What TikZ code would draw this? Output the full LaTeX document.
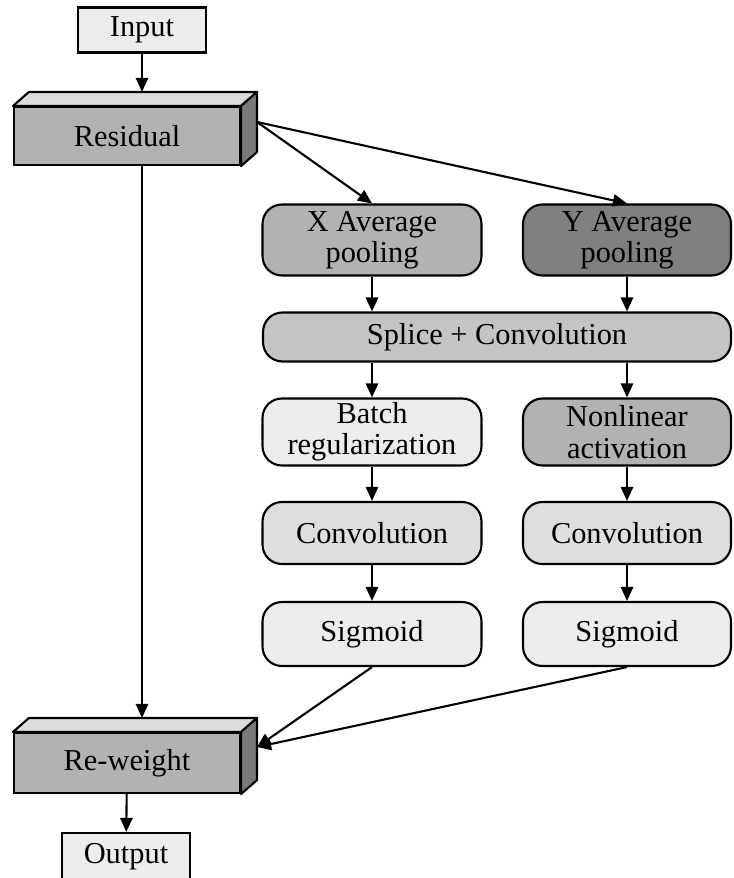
\documentclass[tikz,border=0pt]{standalone}
\usepackage{fontspec}
\setmainfont{Liberation Serif}
\usepackage{tikz}
\usetikzlibrary{arrows.meta,calc}

\definecolor{boxlight}{gray}{0.925}
\definecolor{boxmid}{gray}{0.70}
\definecolor{boxdark}{gray}{0.50}
\definecolor{boxsplice}{gray}{0.77}
\definecolor{boxconv}{gray}{0.87}
\definecolor{cubetop}{gray}{0.86}
\definecolor{cubeside}{gray}{0.48}

\begin{document}
\begin{tikzpicture}[x=0.02cm,y=-0.02cm]
        \useasboundingbox (0,0) rectangle (733,878);
        \begin{scope}[every node/.style={draw, line width=1.2pt, inner sep=0pt, align=center,
                        font=\fontsize{17.3}{17.8}\selectfont}]
                \node [fill=boxlight, minimum width=2.56cm, minimum height=0.9cm] (inp) at (142,30) {Input};
                \node [fill=boxmid, minimum width=4.52cm, minimum height=1.16cm] (res) at (127,136) {Residual};
                \node [fill=boxmid, minimum width=4.52cm, minimum height=1.2cm] (rw) at (127,763) {Re-weight};
                \node [fill=boxlight, minimum width=2.56cm, minimum height=0.96cm] (out) at (126,857) {Output};
        \end{scope}
        % top and side faces of the two blocks
        \foreach \b in {res, rw} {
                \draw [line width=1.2pt, fill=cubetop, line join=round] (\b.north west) -- ++(16,-14) -- ($(\b.north east)+(16,-14)$) -- (\b.north east) -- cycle;
                \draw [line width=1.2pt, fill=cubeside, line join=round] (\b.north east) -- ++(16,-14) -- ($(\b.south east)+(16,-14)$) -- (\b.south east) -- cycle;
        }
        \coordinate (resR) at ($(res.east)+(16,-14)$);
        \coordinate (resT) at ($(res.north)+(15,-14)$);
        \coordinate (rwR) at ($(rw.east)+(16,-16)$);
        \coordinate (rwT) at ($(rw.north)+(15,-14)$);
        \begin{scope}[every node/.style={draw, line width=1.2pt, rounded corners=11pt, inner sep=0pt, align=center,
                        font=\fontsize{17.3}{17.8}\selectfont}]
                \node [fill=boxmid, minimum width=4.38cm, minimum height=1.42cm] (xpool) at (372,240) {X Average\\pooling};
                \node [fill=boxdark, minimum width=4.16cm, minimum height=1.42cm] (ypool) at (627,240) {Y Average\\pooling};
                \node [fill=boxsplice, minimum width=9.36cm, minimum height=0.98cm] (splice) at (497,337) {Splice + Convolution};
                \node [fill=boxlight, minimum width=4.38cm, minimum height=1.34cm] (bn) at (372,432) {Batch\\regularization};
                \node [fill=boxmid, minimum width=4.16cm, minimum height=1.34cm] (act) at (627,432) {Nonlinear\\activation};
                \node [fill=boxconv, minimum width=4.38cm, minimum height=1.24cm] (convL) at (372,533) {Convolution};
                \node [fill=boxconv, minimum width=4.16cm, minimum height=1.24cm] (convR) at (627,533) {Convolution};
                \node [fill=boxlight, minimum width=4.38cm, minimum height=1.28cm] (sigL) at (372,634) {Sigmoid};
                \node [fill=boxlight, minimum width=4.16cm, minimum height=1.28cm] (sigR) at (627,634) {Sigmoid};
        \end{scope}
        \begin{scope}[every path/.style={line width=1.2pt, -{Triangle[length=8pt,width=7pt]}}]
                \path (inp) edge (resT);
                \path (resR) edge (xpool.north);
                \path (resR) edge (ypool.north);
                \path (res.south -| inp.south) edge (rwT);
                \path (xpool.south) edge (xpool.south |- splice.north);
                \path (ypool.south) edge (ypool.south |- splice.north);
                \path (bn.north |- splice.south) edge (bn);
                \path (act.north |- splice.south) edge (act);
                \path (bn) edge (convL);
                \path (act) edge (convR);
                \path (convL) edge (sigL);
                \path (convR) edge (sigR);
                \path (sigL.south) edge (rwR);
                \path (sigR.south) edge (rwR);
                \path (rw) edge (out);
        \end{scope}
\end{tikzpicture}
\end{document}
